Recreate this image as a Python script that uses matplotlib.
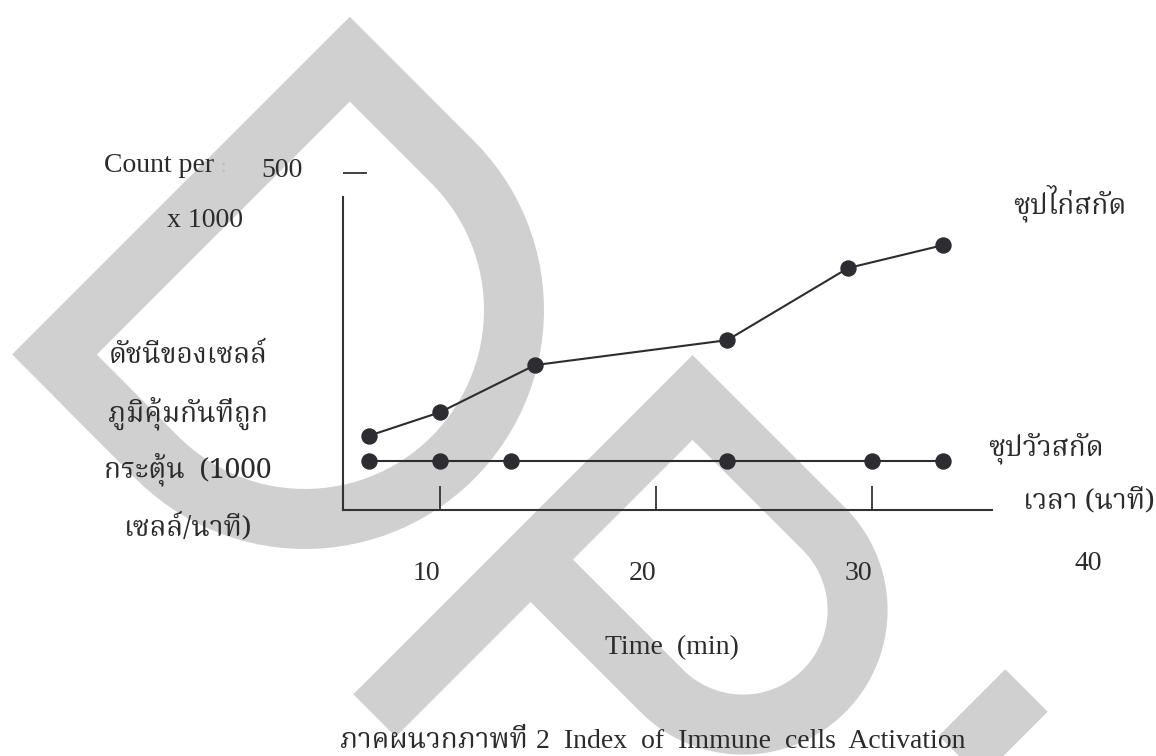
import numpy as np
import matplotlib
matplotlib.use("Agg")
import matplotlib.pyplot as plt
import matplotlib.transforms as mtransforms
from matplotlib import font_manager as fm
from matplotlib.ft2font import FT2Font
from matplotlib.path import Path
from matplotlib.patches import PathPatch

# ---------------- data ----------------
time_chicken = [6.7, 10, 14.4, 23.3, 28.9, 33.3]
index_chicken = [110, 145, 215, 252, 359, 393]
time_beef = [6.7, 10, 13.3, 23.3, 30, 33.3]
index_beef = [73, 73, 73, 73, 73, 73]
xtick_values = [10, 20, 30]
xtick_labels = ["10", "20", "30"]
extra_xtick_value = 40
extra_xtick_label = "40"
ytick_values = [500]
ytick_labels = ["500"]
series_names = ["ซุปไก่สกัด", "ซุปวัวสกัด"]
ylabel_lines = ["ดัชนีของเซลล์", "ภูมิคุ้มกันที่ถูก", "กระตุ้น  (1000", "เซลล์/นาที)"]
xlabel_thai = "เวลา (นาที)"
xlabel_en = "Time  (min)"
unit_lines = ["Count per", "x 1000"]
caption_thai = "ภาคผนวกภาพที่"
caption_en = "2  Index  of  Immune  cells  Activation"

# ---------------- fonts ----------------
def find_thai_font():
    preferred = ["Noto Serif Thai", "Kinnari", "Norasi", "TH Sarabun New", "Sarabun",
                 "Laksaman", "Loma", "Garuda", "Noto Sans Thai", "Noto Sans Thai Looped",
                 "Tlwg Typo", "Umpush", "Waree", "Sawasdee", "Purisa"]
    found = {}
    for f in fm.fontManager.ttflist:
        if f.name in found:
            continue
        try:
            cm = FT2Font(f.fname).get_charmap()
        except Exception:
            continue
        if 0x0E01 in cm and 0x0E2A in cm:
            found[f.name] = f.fname
    for p in preferred:
        if p in found:
            return p
    if found:
        return sorted(found)[0]
    return None

THAI = find_thai_font()
SERIF = "Liberation Serif"
thai_family = [THAI, SERIF] if THAI else [SERIF, "DejaVu Sans"]
plt.rcParams["font.family"] = [SERIF, "DejaVu Sans"]

W, H = 1156, 756
fig = plt.figure(figsize=(W / 100, H / 100), dpi=100)
fig.patch.set_facecolor("white")
pxT = mtransforms.Affine2D().scale(1 / W, -1 / H).translate(0, 1) + fig.transFigure

TXT = "#2b2b2b"
GRAY = "#d0d0d0"

# ---------------- watermark (background) ----------------
bg = fig.add_axes([0, 0, 1, 1], zorder=0)
bg.set_xlim(0, W)
bg.set_ylim(H, 0)
bg.axis("off")
band = 60 * 0.72  # 60 px stroke


def d_shape(corner, apex, center, r, stem_end=None):
    th = np.radians(np.linspace(-45, 135, 60))
    arc = np.column_stack([center[0] + r * np.cos(th), center[1] + r * np.sin(th)])
    if stem_end is None:
        verts = [corner, apex] + [tuple(p) for p in arc] + [corner]
        codes = [Path.MOVETO] + [Path.LINETO] * (len(verts) - 2) + [Path.CLOSEPOLY]
    else:
        verts = [stem_end, apex] + [tuple(p) for p in arc] + [corner]
        codes = [Path.MOVETO] + [Path.LINETO] * (len(verts) - 1)
    return Path(verts, codes)


# "D"
p1 = d_shape((54.5, 354.5), (349.8, 59.2), (305, 310), 209)
bg.add_patch(PathPatch(p1, facecolor="none", edgecolor=GRAY, lw=band,
                       joinstyle="miter", capstyle="butt"))
# "P"
p2 = d_shape((530.5, 559.5), (692.5, 397.5), (743, 610), 114.6, stem_end=(374.5, 715.5))
bg.add_patch(PathPatch(p2, facecolor="none", edgecolor=GRAY, lw=band,
                       joinstyle="miter", capstyle="butt"))
# third stroke at bottom right
p3 = Path([(1026.5, 690.5), (916.5, 800.5)], [Path.MOVETO, Path.LINETO])
bg.add_patch(PathPatch(p3, facecolor="none", edgecolor=GRAY, lw=band,
                       joinstyle="miter", capstyle="butt"))
bg.plot([343, 343], [123, 196], color="white", lw=1.3)

# ---------------- main axes ----------------
L, R, T, B = 343, 992, 123, 510
ax = fig.add_axes([L / W, 1 - B / H, (R - L) / W, (B - T) / H], zorder=2)
ax.patch.set_alpha(0)
ax.set_xlim(5.51, 35.56)
ax.set_ylim(0, 574.2)
for s in ("top", "right"):
    ax.spines[s].set_visible(False)
for s in ("left", "bottom"):
    ax.spines[s].set_color("#333333")
    ax.spines[s].set_linewidth(1.5)
ax.spines["left"].set_bounds(0, 464)

ax.set_xticks(xtick_values)
ax.set_xticklabels(xtick_labels)
ax.tick_params(axis="x", direction="in", length=17.5, width=1.3, color="#333333",
               labelsize=20, labelcolor=TXT, pad=37)
for lab in ax.get_xticklabels():
    lab.set_ha("right")
ax.set_yticks(ytick_values)
ax.set_yticklabels(ytick_labels)
ax.tick_params(axis="y", direction="in", length=17.5, width=1.3, color="#333333",
               labelsize=20, labelcolor=TXT, pad=29)
for lab in ax.get_yticklabels():
    lab.set_transform(lab.get_transform() +
                      mtransforms.ScaledTranslation(0, 0.06, fig.dpi_scale_trans))

ax.plot(time_chicken, index_chicken, "-o", color="#2d2d31", lw=1.5, ms=10.8, clip_on=False)
ax.plot(time_beef, index_beef, "-o", color="#2d2d31", lw=1.5, ms=10.8, clip_on=False)

blend = mtransforms.blended_transform_factory(ax.transData, pxT)
ax.text(extra_xtick_value, 570, extra_xtick_label, transform=blend, ha="center",
        va="baseline", fontsize=20, color=TXT)


# ---------------- texts ----------------
def ptext(x, y, s, **kw):
    kw.setdefault("color", TXT)
    kw.setdefault("va", "baseline")
    return fig.text(x, y, s, transform=pxT, **kw)


ptext(104, 172, unit_lines[0], fontsize=20, family=[SERIF])
ptext(221, 172, ":", fontsize=14, color="#b8b8b8", family=[SERIF])
ptext(167, 227, unit_lines[1], fontsize=20, family=[SERIF])
ptext(605, 654, xlabel_en, fontsize=20, family=[SERIF])

# Thai size fitted to the first label line width (159 px)
probe = ptext(0, 0, ylabel_lines[0], fontsize=20, family=thai_family)
fig.canvas.draw()
wpx = probe.get_window_extent().width
probe.remove()
tsize = 20 * 159.0 / max(wpx, 1)

for s, yb in zip(ylabel_lines, [363, 421, 477, 535]):
    ptext(188, yb, s, fontsize=tsize, ha="center", family=thai_family)
ptext(1013, 213, series_names[0], fontsize=tsize, family=thai_family)
ptext(988, 455, series_names[1], fontsize=tsize, family=thai_family)
ptext(1023, 508, xlabel_thai, fontsize=tsize, family=thai_family)
ptext(340, 748, caption_thai, fontsize=tsize, family=thai_family)
ptext(966, 748, caption_en, fontsize=20, ha="right", family=[SERIF])

fig.savefig("out.png", dpi=100, facecolor="white")
